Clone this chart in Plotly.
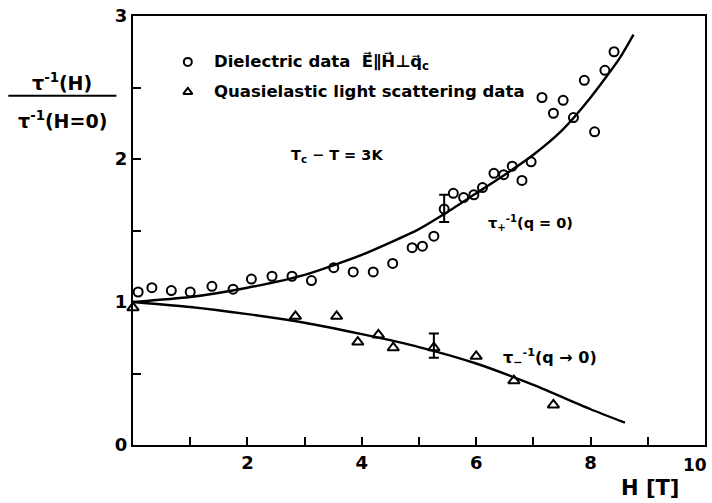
import plotly.graph_objects as go

# Dielectric data (circles)
diel_H = [0.09, 0.33, 0.67, 1.00, 1.38, 1.75, 2.07, 2.43, 2.78, 3.12, 3.51, 3.85, 4.20, 4.54,
          4.88, 5.06, 5.26, 5.60, 5.78, 5.96, 6.11, 6.31, 6.48, 6.63, 6.80, 6.96, 7.15, 7.35,
          7.52, 7.70, 7.89, 8.07, 8.25, 8.41]
diel_v = [1.07, 1.10, 1.08, 1.07, 1.11, 1.09, 1.16, 1.18, 1.18, 1.15, 1.24, 1.21, 1.21, 1.27,
          1.38, 1.39, 1.46, 1.76, 1.73, 1.75, 1.80, 1.90, 1.89, 1.95, 1.85, 1.98, 2.43, 2.32,
          2.41, 2.29, 2.55, 2.19, 2.62, 2.75]
# dielectric point with error bar
diel_err_H = [5.44]
diel_err_v = [1.65]
diel_err_plus = [0.10]
diel_err_minus = [0.09]

# Quasielastic light scattering data (triangles)
qls_H = [0.0, 2.84, 3.56, 3.93, 4.29, 4.55, 6.00, 6.66, 7.35]
qls_v = [0.96, 0.90, 0.90, 0.72, 0.77, 0.68, 0.62, 0.45, 0.28]
qls_err_H = [5.26]
qls_err_v = [0.68]
qls_err_plus = [0.10]
qls_err_minus = [0.07]

# Fitted curves
up_H = [0, 1, 2, 3, 4, 5, 5.5, 6, 6.5, 7, 7.5, 8, 8.5, 8.75]
up_v = [1.00, 1.035, 1.10, 1.19, 1.33, 1.51, 1.63, 1.76, 1.89, 2.03, 2.20, 2.43, 2.70, 2.87]
lo_H = [0, 1, 2, 3, 4, 5, 6, 7, 8, 8.6]
lo_v = [1.00, 0.965, 0.915, 0.855, 0.775, 0.685, 0.57, 0.42, 0.25, 0.156]

x_tickvals = [0, 2, 4, 6, 8]
x_ticktext = ["", "2", "4", "6", "8"]
y_tickvals = [0, 1, 2, 3]
y_ticktext = ["0", "1", "2", "3"]

FONT = "DejaVu Sans"
fig = go.Figure()

fig.add_trace(go.Scatter(x=up_H, y=up_v, mode="lines",
                         line=dict(color="black", width=2.4, shape="spline", smoothing=0.6),
                         showlegend=False, hoverinfo="skip"))
fig.add_trace(go.Scatter(x=lo_H, y=lo_v, mode="lines",
                         line=dict(color="black", width=2.4, shape="spline", smoothing=0.6),
                         showlegend=False, hoverinfo="skip"))

circ = dict(symbol="circle-open", size=9, color="black", line=dict(width=2, color="black"))
tri = dict(symbol="triangle-up-open", size=10, color="black", line=dict(width=2, color="black"))

fig.add_trace(go.Scatter(x=diel_H, y=diel_v, mode="markers", marker=circ, showlegend=False, cliponaxis=False))
fig.add_trace(go.Scatter(x=diel_err_H, y=diel_err_v, mode="markers", marker=circ, showlegend=False,
                         error_y=dict(type="data", symmetric=False, array=diel_err_plus,
                                      arrayminus=diel_err_minus, color="black", thickness=2, width=5)))
fig.add_trace(go.Scatter(x=qls_H, y=qls_v, mode="markers", marker=tri, showlegend=False, cliponaxis=False))
fig.add_trace(go.Scatter(x=qls_err_H, y=qls_err_v, mode="markers", marker=tri, showlegend=False,
                         error_y=dict(type="data", symmetric=False, array=qls_err_plus,
                                      arrayminus=qls_err_minus, color="black", thickness=2, width=5)))

# legend symbols (placed on an invisible overlay axis spanning the plot area)
fig.add_trace(go.Scatter(x=[0.0958], y=[0.893], xaxis="x2", yaxis="y2", mode="markers",
                         marker=dict(symbol="circle-open", size=8, color="black", line=dict(width=2)),
                         showlegend=False, hoverinfo="skip"))
fig.add_trace(go.Scatter(x=[0.0958], y=[0.823], xaxis="x2", yaxis="y2", mode="markers",
                         marker=dict(symbol="triangle-up-open", size=8, color="black", line=dict(width=2)),
                         showlegend=False, hoverinfo="skip"))

def bf(size):
    return dict(family=FONT, size=size, color="black", weight="bold")

annotations = [
    dict(x=0.1376, y=0.893, xref="paper", yref="paper",
         text="Dielectric data  E\u20d7\u2225H\u20d7\u22a5q\u20d7<sub>c</sub>", showarrow=False, font=bf(16.5),
         xanchor="left", yanchor="middle"),
    dict(x=0.1376, y=0.823, xref="paper", yref="paper",
         text="Quasielastic light scattering data", showarrow=False, font=bf(16.5),
         xanchor="left", yanchor="middle"),
    dict(x=2.72, y=2.02, xref="x", yref="y", text="T<sub>c</sub> − T = 3K", showarrow=False, font=bf(14.5),
         xanchor="left", yanchor="middle"),
    dict(x=6.17, y=1.55, xref="x", yref="y", text="τ<sub>+</sub><sup>-1</sup>(q = 0)", showarrow=False,
         font=bf(14.5), xanchor="left", yanchor="middle"),
    dict(x=6.43, y=0.61, xref="x", yref="y", text="τ<sub>−</sub><sup>-1</sup>(q → 0)", showarrow=False,
         font=bf(16), xanchor="left", yanchor="middle"),
    dict(x=(711 - 133) / 574, y=-0.0465, xref="paper", yref="paper", text="10", showarrow=False, font=bf(17),
         xanchor="right", yanchor="middle"),
    dict(x=(652 - 133) / 57.4, y=-0.1, xref="x", yref="paper", text="H [T]", showarrow=False,
         font=bf(21), xanchor="center", yanchor="middle"),
    dict(x=-0.1237, y=0.8465, xref="paper", yref="paper", text="τ<sup>-1</sup>(H)", showarrow=False,
         font=bf(19), xanchor="center", yanchor="middle"),
    dict(x=-0.1237, y=0.758, xref="paper", yref="paper", text="τ<sup>-1</sup>(H=0)", showarrow=False,
         font=bf(19), xanchor="center", yanchor="middle"),
]

axis_common = dict(ticks="inside", ticklen=8, tickwidth=2, tickcolor="black", showline=True, linewidth=2,
                   linecolor="black", mirror=True, showgrid=False, zeroline=False, tickfont=bf(18))

fig.update_layout(
    width=712, height=503,
    margin=dict(l=133, r=5, t=15, b=58),
    paper_bgcolor="white", plot_bgcolor="white",
    font=dict(family=FONT, size=16, color="black"),
    annotations=annotations,
    shapes=[dict(type="line", xref="paper", yref="paper", x0=-0.218, x1=-0.029, y0=0.814, y1=0.814,
                 line=dict(color="black", width=2))],
    xaxis=dict(range=[0, 10], tickvals=x_tickvals, ticktext=x_ticktext,
               minor=dict(dtick=1, ticks="inside", ticklen=8, tickwidth=2, tickcolor="black", showgrid=False),
               **axis_common),
    yaxis=dict(range=[0, 3], tickvals=y_tickvals, ticktext=y_ticktext,
               minor=dict(dtick=0.5, ticks="inside", ticklen=8, tickwidth=2, tickcolor="black", showgrid=False),
               **axis_common),
    xaxis2=dict(range=[0, 1], overlaying="x", visible=False),
    yaxis2=dict(range=[0, 1], overlaying="y", visible=False),
)

fig.write_html("out.html")
